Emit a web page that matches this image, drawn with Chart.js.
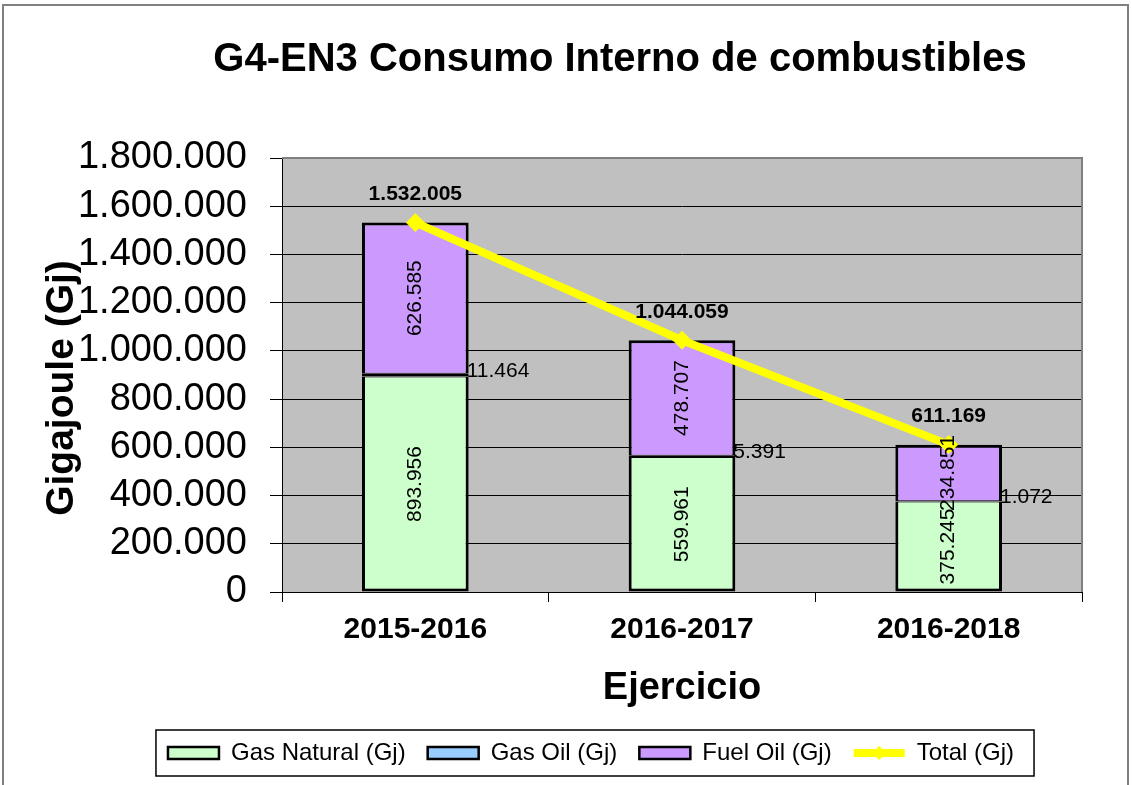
<!DOCTYPE html>
<html>
<head>
<meta charset="utf-8">
<script src="https://cdn.jsdelivr.net/npm/chart.js@4.4.1/dist/chart.umd.min.js"></script>
<style>
html,body{margin:0;padding:0;background:#fff;}
#wrap{width:1132px;height:785px;position:relative;}
</style>
</head>
<body>
<div id="wrap"><canvas id="c" width="1132" height="785"></canvas></div>
<script>
// ---- data ----
const categories = ['2015-2016', '2016-2017', '2016-2018'];
const gasNatural = [893956, 559961, 375245];
const gasOil = [11464, 5391, 1072];
const fuelOil = [626585, 478707, 234851];
const total = [1532005, 1044059, 611169];
const yTickLabels = ['0', '200.000', '400.000', '600.000', '800.000', '1.000.000', '1.200.000', '1.400.000', '1.600.000', '1.800.000'];
const seriesNames = ['Gas Natural (Gj)', 'Gas Oil (Gj)', 'Fuel Oil (Gj)', 'Total (Gj)'];
const chartTitle = 'G4-EN3 Consumo Interno de combustibles';
const yTitle = 'Gigajoule (Gj)';
const xTitle = 'Ejercicio';

const FONT = '"Liberation Sans", Arial, Helvetica, sans-serif';
const fmt = v => String(v).replace(/\B(?=(\d{3})+(?!\d))/g, '.');

Chart.defaults.font.family = FONT;
Chart.defaults.color = '#000';

const decor = {
  id: 'decor',
  beforeDraw(chart) {
    const {ctx, chartArea: a} = chart;
    ctx.save();
    ctx.fillStyle = '#fff';
    ctx.fillRect(0, 0, chart.width, chart.height);
    ctx.strokeStyle = '#808080';
    ctx.lineWidth = 2;
    ctx.strokeRect(3, 5, 1125, 800);
    ctx.fillStyle = '#C0C0C0';
    ctx.fillRect(a.left, a.top, a.right - a.left, a.bottom - a.top);
    ctx.restore();
  },
  beforeDatasetsDraw(chart) {
    const {ctx, chartArea: a} = chart;
    ctx.save();
    ctx.strokeStyle = '#808080';
    ctx.lineWidth = 2;
    ctx.beginPath();
    ctx.moveTo(a.left, a.top);
    ctx.lineTo(a.right, a.top);
    ctx.lineTo(a.right, a.bottom);
    ctx.stroke();
    ctx.restore();
  },
  afterDatasetsDraw(chart) {
    const {ctx} = chart;
    ctx.save();
    ctx.fillStyle = '#000';
    [0, 2].forEach(di => {
      const meta = chart.getDatasetMeta(di);
      const vals = chart.data.datasets[di].data;
      meta.data.forEach((bar, i) => {
        const cy = (bar.y + bar.base) / 2;
        ctx.save();
        ctx.translate(bar.x, cy);
        ctx.rotate(-Math.PI / 2);
        ctx.font = '21px ' + FONT;
        ctx.textAlign = 'center';
        ctx.textBaseline = 'middle';
        ctx.fillText(fmt(vals[i]), 0, 0);
        ctx.restore();
      });
    });
    {
      const meta = chart.getDatasetMeta(1);
      const vals = chart.data.datasets[1].data;
      meta.data.forEach((bar, i) => {
        const cy = (bar.y + bar.base) / 2;
        ctx.font = '21px ' + FONT;
        ctx.textAlign = 'left';
        ctx.textBaseline = 'middle';
        ctx.fillText(fmt(vals[i]), bar.x + bar.width / 2 - 2, cy - 4);
      });
    }
    {
      const meta = chart.getDatasetMeta(3);
      const vals = chart.data.datasets[3].data;
      meta.data.forEach((pt, i) => {
        ctx.font = 'bold 21px ' + FONT;
        ctx.textAlign = 'center';
        ctx.textBaseline = 'middle';
        ctx.fillText(fmt(vals[i]), pt.x, pt.y - 28);
      });
    }
    ctx.restore();
  },
  afterDraw(chart) {
    const {ctx} = chart;
    ctx.save();
    ctx.fillStyle = '#000';
    ctx.font = 'bold 40px ' + FONT;
    ctx.textAlign = 'center';
    ctx.textBaseline = 'middle';
    ctx.fillText(chartTitle, 620, 60);
    ctx.save();
    ctx.translate(62, 388);
    ctx.rotate(-Math.PI / 2);
    ctx.font = 'bold 39px ' + FONT;
    ctx.fillText(yTitle, 0, 0);
    ctx.restore();
    const lg = chart.legend;
    if (lg && lg.legendHitBoxes && lg.legendHitBoxes.length) {
      const hb = lg.legendHitBoxes;
      const l = Math.min(...hb.map(h => h.left));
      const r = Math.max(...hb.map(h => h.left + h.width));
      const cy = hb[0].top + hb[0].height / 2;
      ctx.strokeStyle = '#000';
      ctx.lineWidth = 1.5;
      ctx.strokeRect(l - 12, cy - 23, (r - l) + 32, 46);
      // diamond marker on the Total legend line
      const t = hb[3];
      if (t) {
        const mx = t.left + 51 / 2, my = t.top + t.height / 2, s = 7;
        ctx.fillStyle = '#FFFF00';
        ctx.beginPath();
        ctx.moveTo(mx, my - s); ctx.lineTo(mx + s, my); ctx.lineTo(mx, my + s); ctx.lineTo(mx - s, my);
        ctx.closePath();
        ctx.fill();
      }
    }
    ctx.restore();
  }
};

const chart = new Chart(document.getElementById('c'), {
  type: 'bar',
  data: {
    labels: categories,
    datasets: [
      {
        label: seriesNames[0], data: gasNatural, backgroundColor: '#CCFFCC', borderColor: '#000',
        borderWidth: {left: 3, right: 3, bottom: 3, top: 1}, borderSkipped: false, stack: 's', order: 1,
        barPercentage: 0.4, categoryPercentage: 1.0
      },
      {
        label: seriesNames[1], data: gasOil, backgroundColor: '#99CCFF', borderColor: '#000',
        borderWidth: {left: 3, right: 3, bottom: 2, top: 2}, borderSkipped: false, stack: 's', order: 1,
        barPercentage: 0.4, categoryPercentage: 1.0
      },
      {
        label: seriesNames[2], data: fuelOil, backgroundColor: '#CC99FF', borderColor: '#000',
        borderWidth: {left: 3, right: 3, bottom: 1, top: 3}, borderSkipped: false, stack: 's', order: 1,
        barPercentage: 0.4, categoryPercentage: 1.0
      },
      {
        type: 'line', label: seriesNames[3], data: total, borderColor: '#FFFF00', backgroundColor: '#FFFF00',
        borderWidth: 8, tension: 0, stack: 'line', order: 0,
        pointStyle: 'rectRot', pointRadius: 9, pointBackgroundColor: '#FFFF00', pointBorderColor: '#FFFF00',
        pointBorderWidth: 1
      }
    ]
  },
  options: {
    responsive: false,
    animation: false,
    devicePixelRatio: 1,
    layout: {padding: {top: 158, right: 0, bottom: 10, left: 50}},
    plugins: {
      title: {display: false},
      tooltip: {enabled: false},
      legend: {
        display: true,
        position: 'bottom',
        labels: {
          font: {size: 24},
          color: '#000',
          padding: 22,
          boxHeight: 12,
          usePointStyle: true,
          pointStyleWidth: 51,
          sort: (a, b) => a.datasetIndex - b.datasetIndex,
          generateLabels(chart) {
            const items = Chart.defaults.plugins.legend.labels.generateLabels(chart);
            items.forEach(it => {
              if (it.datasetIndex === 3) {
                it.pointStyle = 'line';
                it.strokeStyle = '#FFFF00';
                it.lineWidth = 8;
              } else {
                it.pointStyle = 'rect';
                it.strokeStyle = '#000';
                it.lineWidth = 2.5;
              }
            });
            return items;
          }
        }
      }
    },
    scales: {
      x: {
        stacked: true,
        grid: {display: true, drawOnChartArea: false, drawTicks: true, tickLength: 10, color: '#000', offset: true},
        border: {display: true, color: '#000', width: 1},
        ticks: {font: {size: 30, weight: 'bold'}, color: '#000', padding: 10},
        title: {display: true, text: xTitle, font: {size: 38, weight: 'bold'}, color: '#000', padding: {top: 0, bottom: 8}},
        afterFit(scale) { scale.height = 127; }
      },
      y: {
        stacked: true,
        min: 0,
        max: 1800000,
        grid: {color: '#000', lineWidth: 1, drawTicks: true, tickLength: 12},
        border: {display: true, color: '#000', width: 1},
        ticks: {
          stepSize: 200000,
          autoSkip: false,
          font: {size: 38},
          color: '#000',
          padding: 23,
          callback: (v, i) => yTickLabels[i]
        },
        afterFit(scale) { scale.width = 232; }
      },
      yr: {
        position: 'right',
        display: true,
        grid: {display: false, drawTicks: false},
        border: {display: false},
        ticks: {display: false},
        afterFit(scale) { scale.width = 50; }
      }
    }
  },
  plugins: [decor]
});
</script>
</body>
</html>
